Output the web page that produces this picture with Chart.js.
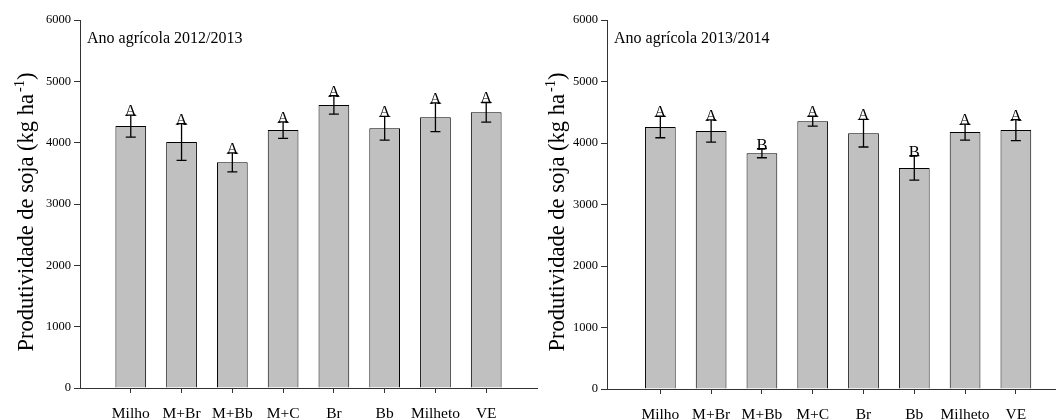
<!DOCTYPE html>
<html>
<head>
<meta charset="utf-8">
<script src="https://cdn.jsdelivr.net/npm/chart.js@4"></script>
<style>
html, body { margin: 0; padding: 0; background: #fff; }
#wrap { position: relative; width: 1056px; height: 419px; overflow: hidden; }
.panel { position: absolute; top: 0; height: 419px; }
</style>
</head>
<body>
<div id="wrap">
  <div class="panel" style="left:0;width:540px"><canvas id="c1"></canvas></div>
  <div class="panel" style="left:527px;width:529px"><canvas id="c2"></canvas></div>
</div>
<script>
// values
var categories = ['Milho', 'M+Br', 'M+Bb', 'M+C', 'Br', 'Bb', 'Milheto', 'VE'];
var yield2012 = [4270, 4010, 3680, 4205, 4615, 4235, 4415, 4495];
var err2012 = [180, 300, 155, 135, 150, 195, 235, 160];
var letters2012 = ['A', 'A', 'A', 'A', 'A', 'A', 'A', 'A'];
var yield2013 = [4260, 4195, 3835, 4355, 4160, 3595, 4178, 4210];
var err2013 = [175, 180, 75, 80, 225, 200, 130, 170];
var letters2013 = ['A', 'A', 'B', 'A', 'A', 'B', 'A', 'A'];
var yTicks = [0, 1000, 2000, 3000, 4000, 5000, 6000];

var serif = 'Liberation Serif';
var axisColor = '#333';

// error bars + letters over each bar
const errorBars = {
    id: 'errorBars',
    afterDatasetsDraw(chart) {
        const ctx = chart.ctx;
        const ys = chart.scales.y;
        const ds = chart.data.datasets[0];
        chart.getDatasetMeta(0).data.forEach((bar, i) => {
            const v = ds.data[i].y, e = ds.errors[i];
            const top = ys.getPixelForValue(v + e);
            const bot = ys.getPixelForValue(v - e);
            ctx.save();
            ctx.strokeStyle = '#000';
            ctx.lineWidth = 1.3;
            ctx.beginPath();
            ctx.moveTo(bar.x, top); ctx.lineTo(bar.x, bot);
            ctx.moveTo(bar.x - 5, top); ctx.lineTo(bar.x + 5, top);
            ctx.moveTo(bar.x - 5, bot); ctx.lineTo(bar.x + 5, bot);
            ctx.stroke();
            ctx.fillStyle = '#000';
            ctx.font = '16.5px "' + serif + '"';
            ctx.textAlign = 'center';
            ctx.textBaseline = 'alphabetic';
            ctx.fillText(ds.letters[i], bar.x, top + 1);
            ctx.restore();
        });
    }
};

// rotated y title with superscript, and the year label
const texts = {
    id: 'texts',
    afterDraw(chart, args, opts) {
        const ctx = chart.ctx;
        const area = chart.chartArea;
        ctx.save();
        ctx.fillStyle = '#000';
        ctx.font = '16px "' + serif + '"';
        ctx.textAlign = 'left';
        ctx.textBaseline = 'middle';
        ctx.fillText(opts.year, area.left + 7, 39);

        const main = 'Produtividade de soja (kg ha';
        const big = '22.5px "' + serif + '"', small = '14.5px "' + serif + '"';
        ctx.font = big;
        const w1 = ctx.measureText(main).width;
        const w3 = ctx.measureText(')').width;
        ctx.font = small;
        const w2 = ctx.measureText('-1').width + 2;
        const total = w1 + w2 + w3;
        ctx.translate(area.left - opts.titleGap, 212);
        ctx.rotate(-Math.PI / 2);
        ctx.textBaseline = 'alphabetic';
        let x = -total / 2;
        ctx.font = big;
        ctx.fillText(main, x, 0);
        x += w1 + 2;
        ctx.font = small;
        ctx.fillText('-1', x, -9);
        x += w2 - 2;
        ctx.font = big;
        ctx.fillText(')', x, 0);
        ctx.restore();
    }
};

function makeChart(id, values, errors, letters, year, xMin, xMax, padRight, xHeight, titleGap) {
    const config = {
        type: 'bar',
        data: {
            datasets: [{
                data: values.map((v, i) => ({ x: i + 1, y: v })),
                errors: errors,
                letters: letters,
                backgroundColor: '#c0c0c0',
                borderColor: '#000',
                borderWidth: 1,
                barPercentage: 0.605,
                categoryPercentage: 1
            }]
        },
        options: {
            responsive: true,
            maintainAspectRatio: false,
            animation: false,
            layout: { padding: { top: 20, left: 0, right: padRight, bottom: 0 } },
            plugins: {
                legend: { display: false },
                tooltip: { enabled: false },
                texts: { year: year, titleGap: titleGap }
            },
            scales: {
                x: {
                    type: 'linear',
                    min: xMin,
                    max: xMax,
                    offset: false,
                    afterBuildTicks: s => { s.ticks = categories.map((c, i) => ({ value: i + 1 })); },
                    afterFit: s => { s.height = xHeight; },
                    grid: { offset: false, drawOnChartArea: false, tickLength: 5, color: axisColor },
                    border: { color: axisColor, width: 1 },
                    ticks: {
                        autoSkip: false,
                        maxRotation: 0,
                        padding: 12,
                        color: '#000',
                        font: { family: serif, size: 15.5 },
                        callback: v => categories[v - 1]
                    }
                },
                y: {
                    min: 0,
                    max: 6000,
                    afterBuildTicks: s => { s.ticks = yTicks.map(v => ({ value: v })); },
                    afterFit: s => { s.width = 80; },
                    grid: { drawOnChartArea: false, tickLength: 6, color: axisColor },
                    border: { color: axisColor, width: 1 },
                    ticks: {
                        padding: 3,
                        color: '#000',
                        font: { family: serif, size: 12.5 },
                        callback: v => String(v)
                    }
                }
            }
        },
        plugins: [errorBars, texts]
    };
    return new Chart(document.getElementById(id), config);
}

makeChart('c1', yield2012, err2012, letters2012, 'Ano agrícola 2012/2013', 0, 9, 3, 31, 47);
makeChart('c2', yield2013, err2013, letters2013, 'Ano agrícola 2013/2014', -0.05, 8.79, 0, 30, 43);
</script>
</body>
</html>
